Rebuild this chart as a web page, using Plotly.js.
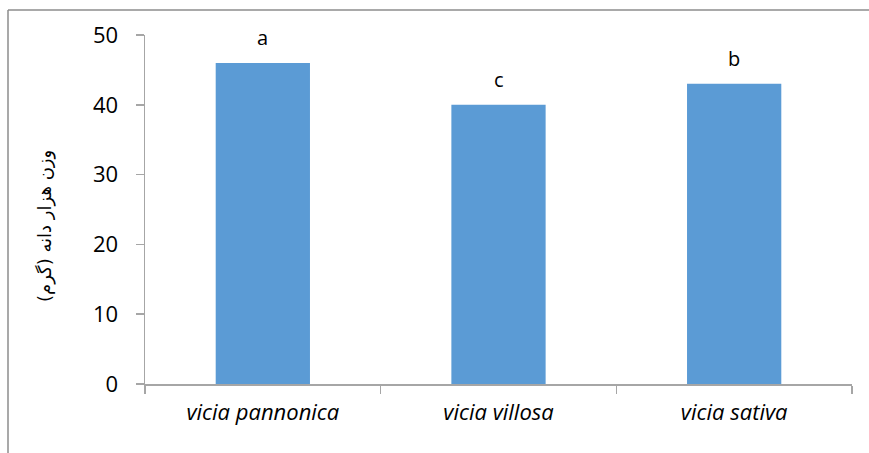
<!DOCTYPE html>
<html>
<head>
<meta charset="utf-8">
<script src="https://cdn.plot.ly/plotly-3.0.1.min.js"></script>
<style>body{margin:0;padding:0;background:#fff}#chart{width:869px;height:453px}</style>
</head>
<body>
<div id="chart"></div>
<script>
const categories = ["vicia pannonica", "vicia villosa", "vicia sativa"];
const values = [46, 40, 43];
const letters = ["a", "c", "b"];
const yTicks = [0, 10, 20, 30, 40, 50];
const yTitle = "وزن هزار دانه (گرم)";

const W = 869, H = 453;
const M = {l: 145, r: 17, t: 35, b: 69};
const pw = W - M.l - M.r, ph = H - M.t - M.b;
const px = x => (x - M.l) / pw;
const py = y => (H - M.b - y) / ph;

const trace = {
  type: 'bar',
  x: categories,
  y: values,
  marker: {color: '#5B9BD5'},
  hoverinfo: 'none'
};

const annotations = categories.map((c, i) => ({
  x: c, y: values[i], xref: 'x', yref: 'y',
  text: letters[i], showarrow: false,
  yanchor: 'bottom', yshift: 10,
  font: {family: '"Open Sans", Lato, sans-serif', size: 20, color: '#000'}
}));
annotations.push({
  xref: 'paper', yref: 'paper', x: px(45), y: py(226),
  xanchor: 'center', yanchor: 'middle', textangle: -90,
  text: yTitle, showarrow: false,
  font: {family: '"DejaVu Sans", "Noto Sans", sans-serif', size: 18, color: '#000'}
});

const layout = {
  width: W, height: H,
  margin: M,
  paper_bgcolor: '#fff', plot_bgcolor: '#fff',
  bargap: 0.6,
  showlegend: false,
  font: {family: '"Open Sans", Lato, sans-serif', color: '#000'},
  xaxis: {
    type: 'category',
    showline: true, linecolor: '#a6a6a6', linewidth: 1.5,
    ticks: 'outside', tickson: 'boundaries', ticklen: 8, tickcolor: '#a6a6a6', tickwidth: 1.5,
    tickfont: {family: '"Open Sans", Lato, sans-serif', size: 22, style: 'italic', color: '#000'},
    ticklabelstandoff: 8,
    showgrid: false, zeroline: false
  },
  yaxis: {
    range: [0, 50], tickvals: yTicks,
    showline: true, linecolor: '#a6a6a6', linewidth: 1.5,
    ticks: 'outside', ticklen: 8, tickcolor: '#a6a6a6', tickwidth: 1.5,
    tickfont: {family: '"Open Sans", Lato, sans-serif', size: 22, color: '#000'},
    ticklabelstandoff: 13,
    showgrid: false, zeroline: false
  },
  annotations: annotations,
  shapes: [
    {type: 'line', xref: 'paper', yref: 'paper', x0: px(8), x1: px(8), y0: py(10), y1: py(460), line: {color: '#8c8c8c', width: 1.5}},
    {type: 'line', xref: 'paper', yref: 'paper', x0: px(8), x1: px(880), y0: py(10), y1: py(10), line: {color: '#8c8c8c', width: 1.5}}
  ]
};

Plotly.newPlot('chart', [trace], layout, {displayModeBar: false, staticPlot: true});
</script>
</body>
</html>
